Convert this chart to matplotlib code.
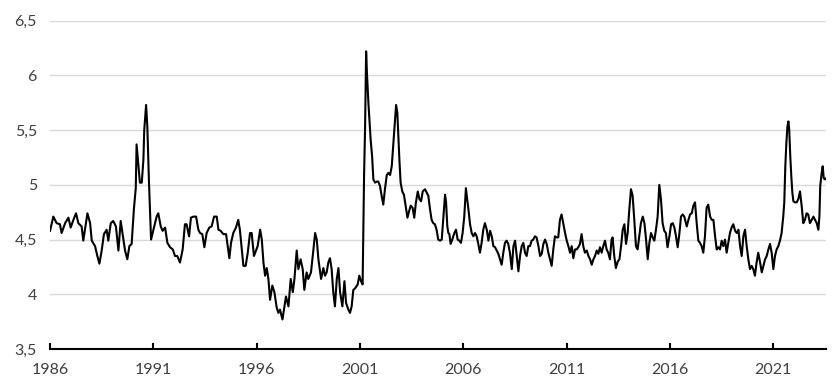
import matplotlib.pyplot as plt

# decimal year and value
years = [
    1986.00, 1986.16, 1986.32, 1986.48, 1986.56, 1986.73, 1986.89, 1987.00, 1987.13, 1987.26,
    1987.37, 1987.53, 1987.61, 1987.69, 1987.81, 1987.94, 1988.02, 1988.18, 1988.29, 1988.39,
    1988.50, 1988.61, 1988.74, 1988.82, 1988.94, 1989.06, 1989.19, 1989.31, 1989.42, 1989.55,
    1989.63, 1989.74, 1989.84, 1989.95, 1990.06, 1990.15, 1990.19, 1990.27, 1990.35, 1990.44,
    1990.52, 1990.56, 1990.65, 1990.71, 1990.79, 1990.89,
    1991.03, 1991.16, 1991.24, 1991.36, 1991.45, 1991.57, 1991.68, 1991.81, 1991.94, 1992.05,
    1992.16, 1992.29, 1992.42, 1992.53, 1992.61, 1992.73, 1992.82, 1992.94, 1993.07, 1993.18,
    1993.26, 1993.37, 1993.47, 1993.58, 1993.71, 1993.82, 1993.94, 1994.07, 1994.15, 1994.26,
    1994.39, 1994.52, 1994.68, 1994.76, 1994.87, 1995.00, 1995.11, 1995.19, 1995.28, 1995.36,
    1995.47, 1995.57, 1995.68, 1995.76, 1995.87,
    1996.05, 1996.17, 1996.25, 1996.33, 1996.41, 1996.49, 1996.57, 1996.65, 1996.76, 1996.86,
    1996.97, 1997.05, 1997.13, 1997.25, 1997.34, 1997.42, 1997.54, 1997.65, 1997.75, 1997.83,
    1997.94, 1998.02, 1998.13, 1998.23, 1998.31, 1998.42, 1998.50, 1998.63, 1998.75, 1998.83,
    1998.91, 1998.99, 1999.12, 1999.23, 1999.31, 1999.39, 1999.47, 1999.55, 1999.63, 1999.71,
    1999.79, 1999.88, 1999.96, 2000.04, 2000.15, 2000.25, 2000.33, 2000.44, 2000.52, 2000.60,
    2000.68, 2000.79, 2000.89, 2000.97, 2001.05, 2001.13,
    2001.20, 2001.25, 2001.30, 2001.34, 2001.41, 2001.46, 2001.52, 2001.59, 2001.65, 2001.73,
    2001.81, 2001.89, 2001.97, 2002.05, 2002.13, 2002.21, 2002.30, 2002.38, 2002.46, 2002.54,
    2002.62, 2002.70, 2002.75, 2002.81, 2002.86, 2002.91, 2002.97, 2003.05, 2003.13, 2003.21,
    2003.30, 2003.38, 2003.46, 2003.55, 2003.63, 2003.71, 2003.80, 2003.88, 2003.96, 2004.04,
    2004.15, 2004.23, 2004.31, 2004.39, 2004.47, 2004.55, 2004.63, 2004.71, 2004.79, 2004.88,
    2004.96, 2005.04, 2005.12, 2005.17, 2005.23, 2005.28, 2005.33, 2005.39, 2005.47, 2005.57,
    2005.65, 2005.73, 2005.81, 2005.89, 2005.97, 2006.05, 2006.13,
    2006.17, 2006.25, 2006.33, 2006.41, 2006.49, 2006.57, 2006.65, 2006.73, 2006.81, 2006.89,
    2006.97, 2007.05, 2007.14, 2007.22, 2007.30, 2007.38, 2007.46, 2007.54, 2007.62, 2007.70,
    2007.78, 2007.86, 2007.94, 2008.02, 2008.10, 2008.18, 2008.26, 2008.35, 2008.43, 2008.51,
    2008.59, 2008.67, 2008.75, 2008.83, 2008.91, 2008.99, 2009.07, 2009.15, 2009.23, 2009.31,
    2009.39, 2009.47, 2009.55, 2009.64, 2009.72, 2009.80, 2009.88, 2009.96, 2010.04, 2010.12,
    2010.20, 2010.28, 2010.36, 2010.44, 2010.52, 2010.60, 2010.68, 2010.76, 2010.85, 2010.93,
    2011.01, 2011.09, 2011.17, 2011.25, 2011.33, 2011.41, 2011.49, 2011.57, 2011.65, 2011.73,
    2011.81, 2011.89, 2011.98, 2012.06, 2012.14, 2012.22, 2012.30, 2012.38, 2012.46, 2012.54,
    2012.62, 2012.70, 2012.78, 2012.86, 2012.94, 2013.02, 2013.10, 2013.18, 2013.23, 2013.31,
    2013.39, 2013.48, 2013.56, 2013.64, 2013.72, 2013.80, 2013.88, 2013.96, 2014.04, 2014.12,
    2014.20, 2014.28, 2014.36, 2014.44, 2014.52, 2014.60, 2014.69, 2014.77, 2014.85, 2014.93,
    2015.01, 2015.09, 2015.17, 2015.25, 2015.33, 2015.41, 2015.49, 2015.57, 2015.65, 2015.73,
    2015.81, 2015.89, 2015.98, 2016.06, 2016.14, 2016.22, 2016.30, 2016.38, 2016.46, 2016.54,
    2016.62, 2016.70,
    2016.82, 2016.90, 2016.98, 2017.06, 2017.14, 2017.22, 2017.30, 2017.38, 2017.46, 2017.54,
    2017.62, 2017.70, 2017.78, 2017.86, 2017.95, 2018.03, 2018.11, 2018.19, 2018.27, 2018.35,
    2018.43, 2018.51, 2018.59, 2018.67, 2018.75, 2018.83, 2018.91, 2018.99, 2019.07, 2019.16,
    2019.24, 2019.32, 2019.40, 2019.48, 2019.56, 2019.64, 2019.72, 2019.80, 2019.88, 2019.96,
    2020.04, 2020.12, 2020.20, 2020.28, 2020.37, 2020.45, 2020.53, 2020.61, 2020.69, 2020.77,
    2020.85, 2020.93, 2021.01, 2021.09, 2021.17, 2021.25, 2021.33, 2021.41, 2021.49, 2021.54,
    2021.59, 2021.64, 2021.69, 2021.74, 2021.78, 2021.83, 2021.88, 2021.93, 2021.98, 2022.06,
    2022.14, 2022.22, 2022.30, 2022.38, 2022.46, 2022.54, 2022.62, 2022.70, 2022.78, 2022.87,
    2022.95, 2023.03, 2023.11, 2023.19, 2023.24, 2023.28, 2023.35, 2023.40, 2023.45, 2023.51,
    2023.56,
]
rate = [
    4.58, 4.71, 4.65, 4.64, 4.56, 4.65, 4.70, 4.61, 4.68, 4.74,
    4.65, 4.62, 4.49, 4.59, 4.74, 4.65, 4.49, 4.44, 4.35, 4.28,
    4.40, 4.55, 4.59, 4.49, 4.65, 4.67, 4.62, 4.40, 4.67, 4.50,
    4.40, 4.32, 4.44, 4.46, 4.78, 4.97, 5.37, 5.20, 5.02, 5.02,
    5.23, 5.50, 5.73, 5.53, 5.02, 4.50,
    4.61, 4.71, 4.74, 4.62, 4.58, 4.61, 4.47, 4.43, 4.41, 4.35,
    4.35, 4.29, 4.41, 4.64, 4.64, 4.53, 4.70, 4.71, 4.71, 4.59,
    4.56, 4.55, 4.43, 4.56, 4.61, 4.62, 4.71, 4.71, 4.59, 4.58,
    4.55, 4.55, 4.33, 4.47, 4.56, 4.61, 4.68, 4.59, 4.41, 4.26,
    4.26, 4.38, 4.56, 4.56, 4.35,
    4.44, 4.59, 4.50, 4.29, 4.17, 4.24, 4.14, 3.95, 4.08, 4.02,
    3.88, 3.83, 3.86, 3.77, 3.88, 3.98, 3.89, 4.14, 4.02, 4.14,
    4.40, 4.23, 4.32, 4.23, 4.04, 4.20, 4.14, 4.20, 4.41, 4.56,
    4.50, 4.32, 4.14, 4.24, 4.17, 4.20, 4.29, 4.33, 4.23, 4.02,
    3.89, 4.14, 4.24, 4.02, 3.89, 4.12, 3.92, 3.86, 3.83, 3.89,
    4.04, 4.06, 4.09, 4.17, 4.12, 4.09,
    5.08, 5.53, 6.22, 6.02, 5.75, 5.60, 5.41, 5.26, 5.05, 5.02,
    5.03, 5.03, 4.99, 4.90, 4.82, 4.96, 5.09, 5.11, 5.09, 5.17,
    5.38, 5.60, 5.73, 5.66, 5.44, 5.23, 5.02, 4.94, 4.91, 4.81,
    4.70, 4.76, 4.81, 4.79, 4.70, 4.84, 4.94, 4.87, 4.85, 4.94,
    4.96, 4.93, 4.90, 4.78, 4.68, 4.65, 4.64, 4.59, 4.50, 4.49,
    4.50, 4.71, 4.91, 4.84, 4.62, 4.56, 4.55, 4.46, 4.50, 4.56,
    4.59, 4.50, 4.49, 4.47, 4.56, 4.71, 4.97,
    4.90, 4.78, 4.64, 4.56, 4.53, 4.56, 4.53, 4.46, 4.38, 4.47,
    4.59, 4.65, 4.59, 4.49, 4.58, 4.53, 4.44, 4.43, 4.40, 4.37,
    4.32, 4.27, 4.38, 4.47, 4.49, 4.46, 4.38, 4.23, 4.44, 4.49,
    4.35, 4.21, 4.35, 4.44, 4.47, 4.38, 4.35, 4.44, 4.44, 4.49,
    4.50, 4.53, 4.52, 4.44, 4.35, 4.37, 4.46, 4.50, 4.46, 4.38,
    4.32, 4.26, 4.41, 4.53, 4.52, 4.52, 4.68, 4.73, 4.64, 4.56,
    4.49, 4.44, 4.38, 4.44, 4.33, 4.41, 4.41, 4.43, 4.46, 4.55,
    4.44, 4.38, 4.40, 4.35, 4.32, 4.27, 4.32, 4.35, 4.40, 4.37,
    4.43, 4.38, 4.44, 4.49, 4.41, 4.38, 4.32, 4.50, 4.52, 4.35,
    4.24, 4.30, 4.32, 4.44, 4.59, 4.64, 4.46, 4.56, 4.78, 4.96,
    4.90, 4.68, 4.44, 4.41, 4.53, 4.65, 4.71, 4.65, 4.50, 4.32,
    4.47, 4.56, 4.52, 4.49, 4.59, 4.71, 5.00, 4.87, 4.65, 4.58,
    4.56, 4.43, 4.53, 4.64, 4.65, 4.61, 4.53, 4.43, 4.55, 4.71,
    4.73, 4.71,
    4.62, 4.68, 4.73, 4.74, 4.81, 4.84, 4.65, 4.49, 4.47, 4.44,
    4.38, 4.53, 4.79, 4.82, 4.71, 4.68, 4.68, 4.53, 4.41, 4.43,
    4.41, 4.49, 4.44, 4.50, 4.38, 4.47, 4.56, 4.61, 4.64, 4.58,
    4.56, 4.59, 4.44, 4.35, 4.53, 4.59, 4.44, 4.32, 4.23, 4.26,
    4.23, 4.17, 4.29, 4.38, 4.29, 4.20, 4.26, 4.32, 4.35, 4.41,
    4.46, 4.38, 4.23, 4.35, 4.41, 4.44, 4.49, 4.56, 4.71, 4.84,
    5.17, 5.38, 5.53, 5.58, 5.50, 5.26, 5.08, 4.93, 4.85, 4.84,
    4.84, 4.87, 4.94, 4.81, 4.65, 4.68, 4.74, 4.73, 4.65, 4.68,
    4.71, 4.68, 4.65, 4.59, 4.71, 4.99, 5.11, 5.17, 5.06, 5.05,
    5.06,
]

tick_years = [1986, 1991, 1996, 2001, 2006, 2011, 2016, 2021]
y_ticks = [3.5, 4, 4.5, 5, 5.5, 6, 6.5]
y_labels = ['3,5', '4', '4,5', '5', '5,5', '6', '6,5']

plt.rcParams['font.family'] = ['Lato', 'DejaVu Sans']

fig = plt.figure(figsize=(8.38, 3.9), dpi=100)
ax = fig.add_axes([0.0597, 0.1051, 0.926, 0.8418])

ax.plot(years, rate, color='black', linewidth=1.5)

ax.set_xlim(1986, 2023.56)
ax.set_ylim(3.5, 6.5)
ax.set_yticks(y_ticks)
ax.set_yticklabels(y_labels)
ax.set_xticks(tick_years)
ax.set_xticklabels([str(y) for y in tick_years])

# light horizontal gridlines, only bottom axis line
ax.grid(axis='y', color='#d9d9d9', linewidth=1)
ax.set_axisbelow(True)
for s in ['top', 'right', 'left']:
    ax.spines[s].set_visible(False)
ax.spines['bottom'].set_linewidth(1.5)

ax.tick_params(axis='y', length=0, pad=9.4, labelsize=11.5, labelcolor='#404040')
ax.tick_params(axis='x', direction='in', length=4, width=1.5, pad=10,
               labelsize=11.5, labelcolor='#404040')

fig.savefig('out.png', dpi=100)
